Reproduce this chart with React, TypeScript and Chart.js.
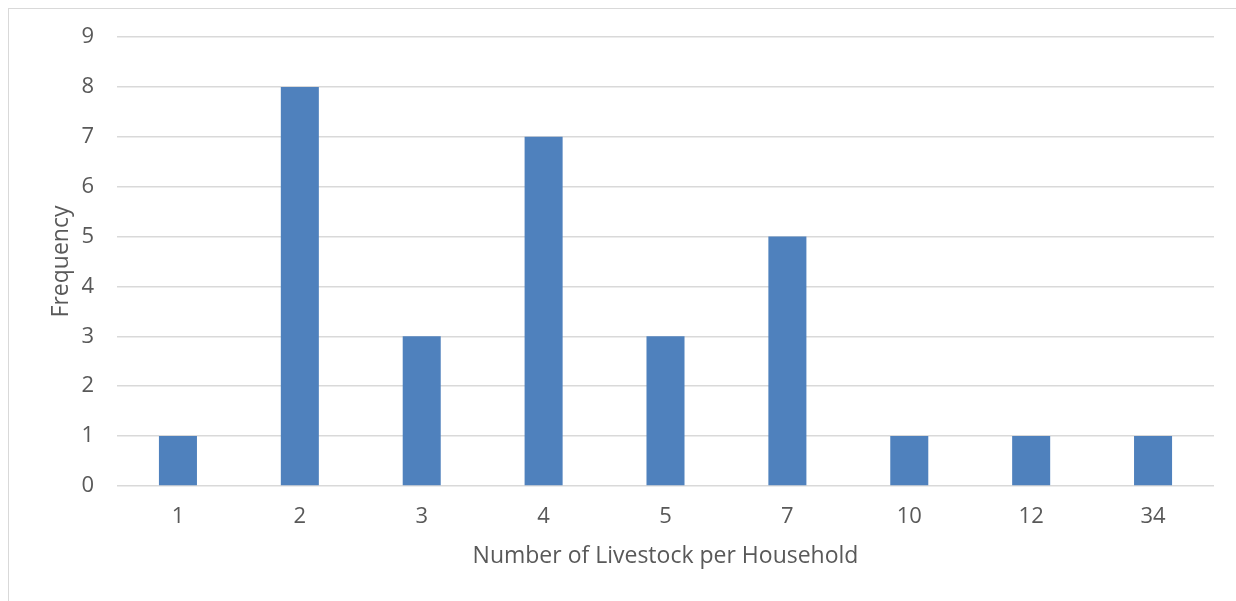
import React, { useEffect, useRef } from "react";
import { Chart, registerables } from "chart.js";

Chart.register(...registerables);

const categories = ["1", "2", "3", "4", "5", "7", "10", "12", "34"];
const frequencies = [1, 8, 3, 7, 3, 5, 1, 1, 1];
const yTicks = [0, 1, 2, 3, 4, 5, 6, 7, 8, 9];
const xTitle = "Number of Livestock per Household";
const yTitle = "Frequency";

const FONT = "'Open Sans', sans-serif";
const TEXT = "#595959";
const GRID = "#d9d9d9";
const BAR = "#4f81bd";

export default function App() {
  const ref = useRef<HTMLCanvasElement | null>(null);
  useEffect(() => {
    document.body.style.overflow = "hidden";
    if (!ref.current) return;
    const chart = new Chart(ref.current, {
      type: "bar",
      data: {
        labels: categories,
        datasets: [
          {
            label: yTitle,
            data: frequencies,
            backgroundColor: BAR,
            borderWidth: 0,
            categoryPercentage: 1,
            barPercentage: 0.312,
          },
        ],
      },
      options: {
        animation: false,
        responsive: false,
        devicePixelRatio: 1,
        layout: { padding: { top: 28, right: 34, left: 0, bottom: 0 } },
        plugins: { legend: { display: false }, tooltip: { enabled: false } },
        scales: {
          x: {
            grid: { display: false, drawTicks: false },
            border: { display: false },
            ticks: {
              color: TEXT,
              font: { family: FONT, size: 22 },
              padding: 18,
              maxRotation: 0,
            },
            title: {
              display: true,
              text: xTitle,
              color: TEXT,
              font: { family: FONT, size: 23 },
              padding: { top: 0, bottom: 31 },
            },
            afterFit: (s: any) => {
              s.height = 115;
              s.paddingLeft = 0;
              s.paddingRight = 0;
            },
          },
          y: {
            min: 0,
            max: 9,
            afterBuildTicks: (s: any) => {
              s.ticks = yTicks.map((v) => ({ value: v }));
            },
            grid: { color: GRID, lineWidth: 1.5, drawTicks: false },
            border: { display: false },
            ticks: {
              color: TEXT,
              font: { family: FONT, size: 22 },
              padding: 23,
            },
            title: {
              display: true,
              text: yTitle,
              color: TEXT,
              font: { family: FONT, size: 23 },
              padding: { top: 39, bottom: 0 },
            },
            afterFit: (s: any) => {
              s.width = 108;
              s.paddingTop = 0;
              s.paddingBottom = 0;
            },
          },
        },
      },
    });
    return () => chart.destroy();
  }, []);
  return (
    <div
      style={{
        position: "fixed",
        left: 8,
        top: 8,
        width: 1240,
        height: 600,
        borderTop: "1px solid #d9d9d9",
        borderLeft: "1px solid #d9d9d9",
        boxSizing: "border-box",
        background: "#fff",
        overflow: "hidden",
      }}
    >
      <canvas ref={ref} width={1239} height={592} style={{ display: "block" }} />
    </div>
  );
}
